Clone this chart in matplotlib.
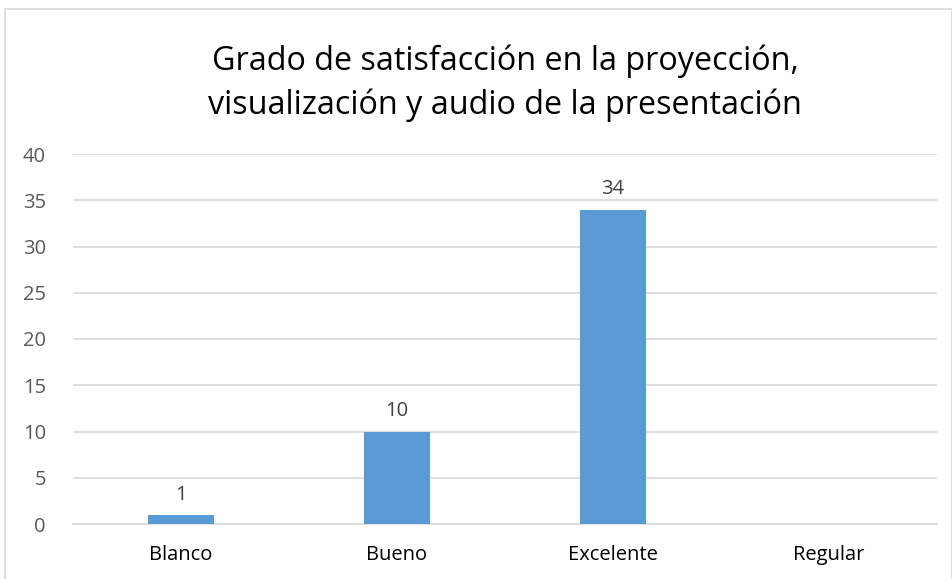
import matplotlib.pyplot as plt
from matplotlib.patches import Rectangle

categories = ["Blanco", "Bueno", "Excelente", "Regular"]
values = [1, 10, 34, 0]
value_labels = ["1", "10", "34", ""]
yticks = [0, 5, 10, 15, 20, 25, 30, 35, 40]

plt.rcParams['font.family'] = ['Open Sans', 'DejaVu Sans']

W, H = 953, 579
fig = plt.figure(figsize=(W / 100, H / 100), dpi=100)

# chart border
fig.patches.append(Rectangle((5 / W, -0.05), (W - 6) / W, (H - 9) / H + 0.05,
                             transform=fig.transFigure, fill=False,
                             edgecolor="#d9d9d9", linewidth=1.2))

left, right = 73 / W, 937 / W
bottom, top = 1 - 524 / H, 1 - 154 / H
ax = fig.add_axes([left, bottom, right - left, top - bottom])

x = range(len(categories))
bars = ax.bar(x, values, width=0.31, color="#5b9bd5", zorder=3)
for xi, v, lab in zip(x, values, value_labels):
    if lab:
        ax.text(xi, v + 1.1, lab, ha="center", va="bottom", fontsize=14.5, color="#404040")

ax.set_xlim(-0.5, len(categories) - 0.5)
ax.set_ylim(0, 40)
ax.set_yticks(yticks)
ax.set_xticks(list(x))
ax.set_xticklabels(categories, fontsize=14.5, color="#000000")
ax.tick_params(axis="y", labelsize=14.5, labelcolor="#595959", length=0, pad=19.5)
ax.tick_params(axis="x", length=0, pad=15)
ax.grid(axis="y", color="#d9d9d9", linewidth=1.2, zorder=0)
for s in ["top", "right", "left"]:
    ax.spines[s].set_visible(False)
ax.spines["bottom"].set_color("#d9d9d9")
ax.spines["bottom"].set_linewidth(1.2)

fig.text((left + right) / 2, 1 - 83 / H,
         "Grado de satisfacción en la proyección,\nvisualización y audio de la presentación",
         ha="center", va="center", fontsize=23.3, color="#000000", linespacing=1.42)

fig.savefig("out.png", dpi=100)
